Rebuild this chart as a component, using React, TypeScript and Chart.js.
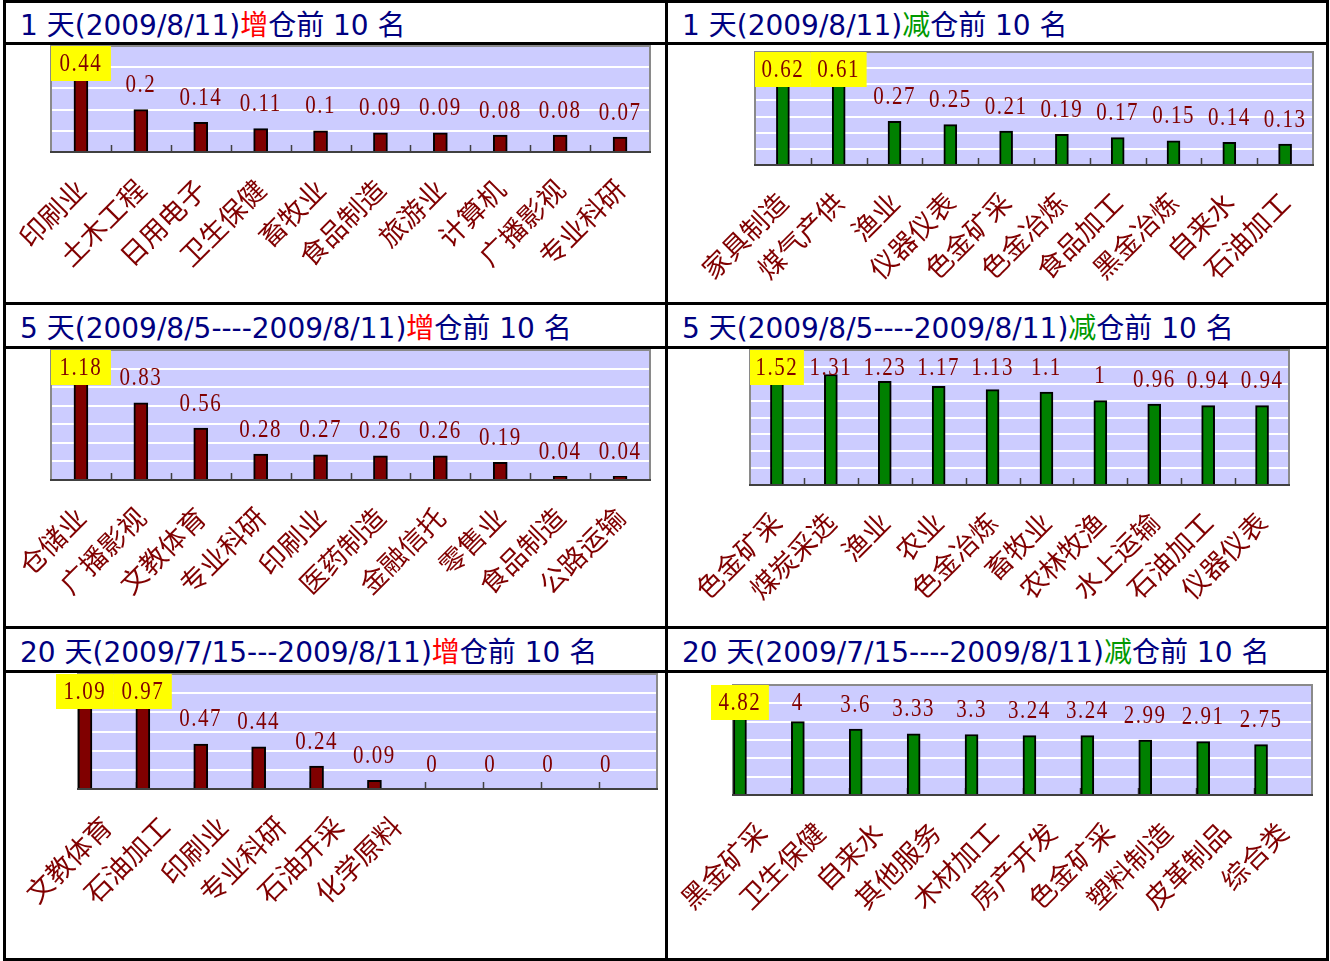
import React, { useEffect, useRef } from "react";
import { Chart, registerables } from "chart.js";

Chart.register(...registerables);

// ---------- data ----------
const p1Categories = ["印刷业", "土木工程", "日用电子", "卫生保健", "畜牧业", "食品制造", "旅游业", "计算机", "广播影视", "专业科研"];
const p1Values = [0.44, 0.2, 0.14, 0.11, 0.1, 0.09, 0.09, 0.08, 0.08, 0.07];

const p2Categories = ["家具制造", "煤气产供", "渔业", "仪器仪表", "色金矿采", "色金冶炼", "食品加工", "黑金冶炼", "自来水", "石油加工"];
const p2Values = [0.62, 0.61, 0.27, 0.25, 0.21, 0.19, 0.17, 0.15, 0.14, 0.13];

const p3Categories = ["仓储业", "广播影视", "文教体育", "专业科研", "印刷业", "医药制造", "金融信托", "零售业", "食品制造", "公路运输"];
const p3Values = [1.18, 0.83, 0.56, 0.28, 0.27, 0.26, 0.26, 0.19, 0.04, 0.04];

const p4Categories = ["色金矿采", "煤炭采选", "渔业", "农业", "色金冶炼", "畜牧业", "农林牧渔", "水上运输", "石油加工", "仪器仪表"];
const p4Values = [1.52, 1.31, 1.23, 1.17, 1.13, 1.1, 1, 0.96, 0.94, 0.94];

const p5Categories = ["文教体育", "石油加工", "印刷业", "专业科研", "石油开采", "化学原料", "", "", "", ""];
const p5Values = [1.09, 0.97, 0.47, 0.44, 0.24, 0.09, 0, 0, 0, 0];

const p6Categories = ["黑金矿采", "卫生保健", "自来水", "其他服务", "木材加工", "房产开发", "色金矿采", "塑料制造", "皮革制品", "综合类"];
const p6Values = [4.82, 4, 3.6, 3.33, 3.3, 3.24, 3.24, 2.99, 2.91, 2.75];

const allCategories = [p1Categories, p2Categories, p3Categories, p4Categories, p5Categories, p6Categories];
const allValues = [p1Values, p2Values, p3Values, p4Values, p5Values, p6Values];

const yMaxes = [0.5, 0.7, 1.4, 1.6, 1.2, 6];
const ySteps = [0.1, 0.1, 0.2, 0.2, 0.2, 1];
const highlightCounts = [1, 2, 1, 1, 2, 1];

const titlePrefixes = [
  "1 天(2009/8/11)",
  "1 天(2009/8/11)",
  "5 天(2009/8/5----2009/8/11)",
  "5 天(2009/8/5----2009/8/11)",
  "20 天(2009/7/15---2009/8/11)",
  "20 天(2009/7/15----2009/8/11)",
];
const titleVerbs = ["增", "减", "增", "减", "增", "减"];
const titleSuffix = "仓前 10 名";

// ---------- layout / style ----------
const CELLS = [
  { left: 6, top: 45, width: 659, height: 257, plot: { l: 51, r: 650, t: 46, b: 152 }, shift: 0, bar: 14 },
  { left: 668, top: 45, width: 658, height: 257, plot: { l: 755, r: 1313, t: 52, b: 165 }, shift: 0, bar: 13 },
  { left: 6, top: 349, width: 659, height: 277, plot: { l: 51, r: 650, t: 350, b: 480 }, shift: 0, bar: 14 },
  { left: 668, top: 349, width: 658, height: 277, plot: { l: 750, r: 1289, t: 350, b: 485 }, shift: 0, bar: 13 },
  { left: 6, top: 673, width: 659, height: 285, plot: { l: 78, r: 657, t: 674, b: 789 }, shift: 0.38, bar: 14 },
  { left: 668, top: 673, width: 658, height: 285, plot: { l: 733, r: 1312, t: 685, b: 795 }, shift: 0.38, bar: 13 },
];
const TITLE_ROWS = [
  { top: 6, height: 39 },
  { top: 308, height: 41 },
  { top: 632, height: 41 },
];
const H_LINES = [0, 42, 302, 346, 626, 670, 958];
const V_LINES = [3, 665, 1326];

const RED_BAR = "#800000";
const GREEN_BAR = "#008000";
const LABEL_COLOR = "#800000";

const decoPlugin = {
  id: "panelDeco",
  beforeDraw(chart: any) {
    const { ctx, chartArea: a } = chart;
    ctx.save();
    ctx.fillStyle = "#ccccff";
    ctx.fillRect(a.left, a.top, a.right - a.left, a.bottom - a.top);
    ctx.restore();
  },
  beforeDatasetsDraw(chart: any) {
    const { ctx, chartArea: a } = chart;
    const xs = chart.scales.x;
    const n = chart.data.labels.length;
    ctx.save();
    ctx.strokeStyle = "#8a8a8a";
    ctx.lineWidth = 2;
    ctx.beginPath();
    ctx.moveTo(a.left, a.bottom);
    ctx.lineTo(a.left, a.top);
    ctx.lineTo(a.right, a.top);
    ctx.lineTo(a.right, a.bottom);
    ctx.stroke();
    ctx.strokeStyle = "#404040";
    ctx.lineWidth = 1.5;
    ctx.beginPath();
    for (let i = 1; i < n; i++) {
      const px = Math.round(xs.getPixelForValue(i - 0.5)) + 0.5;
      ctx.moveTo(px, a.bottom);
      ctx.lineTo(px, a.bottom - 7);
    }
    ctx.stroke();
    ctx.lineWidth = 2;
    ctx.beginPath();
    ctx.moveTo(a.left - 1, a.bottom);
    ctx.lineTo(a.right + 1, a.bottom);
    ctx.stroke();
    ctx.restore();
  },
  afterDatasetsDraw(chart: any, _args: any, opts: any) {
    const { ctx, chartArea: a } = chart;
    const meta = chart.getDatasetMeta(0);
    const values = chart.data.datasets[0].data;
    const n = chart.data.labels.length;
    const cw = (a.right - a.left) / n;
    const hi = opts.highlight || 0;
    ctx.save();
    ctx.fillStyle = "#ffff00";
    for (let i = 0; i < hi; i++) {
      const el = meta.data[i];
      ctx.fillRect(el.x - cw / 2, a.top, cw, 35);
    }
    ctx.font = '21px "Liberation Serif", "DejaVu Serif", serif';
    (ctx as any).letterSpacing = "1.5px";
    ctx.textAlign = "center";
    ctx.textBaseline = "middle";
    ctx.fillStyle = LABEL_COLOR;
    meta.data.forEach((el: any, i: number) => {
      const y = Math.max(el.y - 24, a.top + 18);
      ctx.save();
      ctx.translate(el.x, y);
      ctx.scale(1, 1.18);
      ctx.fillText(String(values[i].y), 0, 0);
      ctx.restore();
    });
    ctx.restore();
  },
};

function Panel({ idx }: { idx: number }) {
  const ref = useRef<HTMLCanvasElement>(null);
  const cell = CELLS[idx];
  useEffect(() => {
    const c = CELLS[idx];
    const p = c.plot;
    const padL = p.l - c.left;
    const padR = c.left + c.width - p.r;
    const padT = p.t - c.top;
    const xh = c.top + c.height - p.b;
    const cats = allCategories[idx];
    const vals = allValues[idx];
    const chart = new Chart(ref.current as HTMLCanvasElement, {
      type: "bar",
      data: {
        labels: cats,
        datasets: [
          {
            data: vals.map((v, i) => ({ x: i, y: v })),
            xAxisID: "xb",
            yAxisID: "y",
            backgroundColor: idx % 2 === 0 ? RED_BAR : GREEN_BAR,
            borderColor: "#000000",
            borderWidth: 2,
            barThickness: cell.bar,
          } as any,
        ],
      },
      options: {
        animation: false,
        responsive: false,
        maintainAspectRatio: false,
        events: [],
        layout: { padding: { left: padL, right: padR, top: padT, bottom: 0 } },
        plugins: {
          legend: { display: false },
          tooltip: { enabled: false },
          panelDeco: { highlight: highlightCounts[idx] },
        } as any,
        scales: {
          x: {
            type: "category",
            position: "bottom",
            offset: true,
            grid: { display: false, offset: true, drawTicks: false },
            border: { display: false },
            ticks: {
              autoSkip: false,
              minRotation: 45,
              maxRotation: 45,
              padding: 21,
              color: LABEL_COLOR,
              font: { family: '"Noto Sans CJK SC", sans-serif', size: 27 },
            },
            afterFit: (s: any) => {
              s.height = xh;
              s.paddingLeft = 0;
              s.paddingRight = 0;
              s.paddingTop = 0;
              s.paddingBottom = 0;
            },
          },
          xb: {
            type: "linear",
            position: "bottom",
            display: false,
            offset: false,
            min: -0.5 + c.shift,
            max: 9.5 + c.shift,
            grid: { offset: false },
            afterFit: (s: any) => {
              s.height = 0;
              s.paddingLeft = 0;
              s.paddingRight = 0;
            },
          },
          y: {
            type: "linear",
            min: 0,
            max: yMaxes[idx],
            ticks: { display: false, stepSize: ySteps[idx] },
            grid: { color: "#ffffff", lineWidth: 2, drawTicks: false },
            border: { display: false },
            afterFit: (s: any) => {
              s.width = 0;
              s.paddingTop = 0;
              s.paddingBottom = 0;
            },
          },
        } as any,
      },
      plugins: [decoPlugin as any],
    });
    return () => chart.destroy();
  }, [idx]);
  return (
    <canvas
      ref={ref}
      width={cell.width}
      height={cell.height}
      style={{ position: "absolute", left: cell.left, top: cell.top, width: cell.width, height: cell.height }}
    />
  );
}

function Title({ idx }: { idx: number }) {
  const row = TITLE_ROWS[Math.floor(idx / 2)];
  const left = idx % 2 === 0 ? 20 : 682;
  return (
    <div
      style={{
        position: "absolute",
        left,
        top: row.top,
        height: row.height,
        lineHeight: row.height + "px",
        fontFamily: '"DejaVu Sans", "Noto Sans CJK SC", sans-serif',
        fontSize: 28,
        color: "#000080",
        whiteSpace: "nowrap",
      }}
    >
      {titlePrefixes[idx]}
      <span style={{ color: titleVerbs[idx] === "增" ? "#ff0000" : "#009900" }}>{titleVerbs[idx]}</span>
      {titleSuffix}
    </div>
  );
}

export default function App() {
  const idxs = [0, 1, 2, 3, 4, 5];
  return (
    <div style={{ position: "absolute", left: 0, top: 0, width: 1330, height: 961, background: "#ffffff", overflow: "hidden" }}>
      {idxs.map((i) => (
        <Title key={"t" + i} idx={i} />
      ))}
      {idxs.map((i) => (
        <Panel key={"p" + i} idx={i} />
      ))}
      {H_LINES.map((y, i) => (
        <div key={"h" + i} style={{ position: "absolute", left: 3, top: y, width: 1326, height: 3, background: "#000" }} />
      ))}
      {V_LINES.map((x, i) => (
        <div key={"v" + i} style={{ position: "absolute", left: x, top: 0, width: 3, height: 961, background: "#000" }} />
      ))}
    </div>
  );
}
